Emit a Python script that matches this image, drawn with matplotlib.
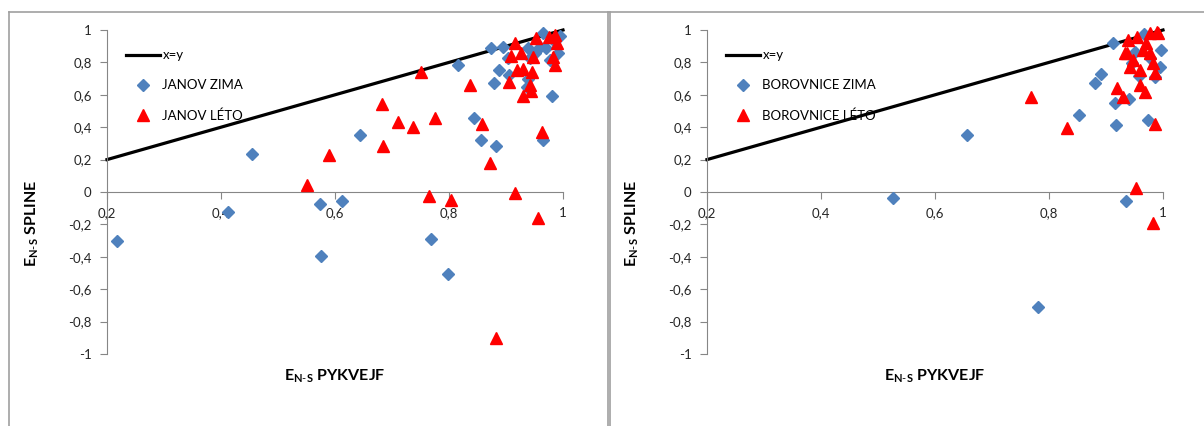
import matplotlib
matplotlib.use("Agg")
import matplotlib.pyplot as plt
from matplotlib.lines import Line2D
from matplotlib.ticker import FuncFormatter

plt.rcParams['font.family'] = ['Lato', 'DejaVu Sans']
plt.rcParams['mathtext.fontset'] = 'custom'
plt.rcParams['mathtext.rm'] = 'Lato'
plt.rcParams['mathtext.bf'] = 'Lato:bold'

# ---- data ----
line_xy = [0.2, 1.0]

janov_zima_x = [0.217, 0.413, 0.454, 0.574, 0.575, 0.613, 0.643, 0.768, 0.799, 0.815,
                0.844, 0.856, 0.882, 0.873, 0.894, 0.879, 0.888, 0.906, 0.904, 0.942,
                0.939, 0.936, 0.939, 0.951, 0.960, 0.965, 0.971, 0.977, 0.980, 0.992,
                0.995, 0.965, 0.985]
janov_zima_y = [-0.305, -0.126, 0.237, -0.074, -0.397, -0.054, 0.354, -0.292, -0.504, 0.784,
                0.455, 0.321, 0.286, 0.887, 0.897, 0.675, 0.753, 0.722, 0.825, 0.825,
                0.887, 0.646, 0.700, 0.860, 0.897, 0.980, 0.887, 0.815, 0.593, 0.856,
                0.965, 0.321, 0.930]

janov_leto_x = [0.750, 0.836, 0.682, 0.711, 0.736, 0.775, 0.858, 0.684, 0.590, 0.872,
                0.550, 0.765, 0.803, 0.915, 0.963, 0.957, 0.882, 0.916, 0.908, 0.927,
                0.919, 0.929, 0.906, 0.948, 0.945, 0.942, 0.943, 0.929, 0.952, 0.976,
                0.986, 0.989, 0.983, 0.986]
janov_leto_y = [0.743, 0.660, 0.543, 0.434, 0.400, 0.455, 0.420, 0.286, 0.228, 0.177,
                0.043, -0.023, -0.049, -0.004, 0.372, -0.160, -0.902, 0.922, 0.840, 0.860,
                0.753, 0.757, 0.680, 0.831, 0.743, 0.660, 0.625, 0.595, 0.949, 0.955,
                0.969, 0.918, 0.835, 0.784]

borov_zima_x = [0.527, 0.780, 0.657, 0.853, 0.918, 0.880, 0.891, 0.913, 0.916, 0.941,
                0.974, 0.935, 0.966, 0.997, 0.994, 0.986, 0.958, 0.945, 0.951, 0.977]
borov_zima_y = [-0.040, -0.708, 0.352, 0.475, 0.414, 0.671, 0.728, 0.918, 0.550, 0.576,
                0.444, -0.054, 0.975, 0.877, 0.774, 0.707, 0.719, 0.794, 0.866, 0.825]

borov_leto_x = [0.768, 0.831, 0.986, 0.953, 0.983, 0.939, 0.954, 0.977, 0.989, 0.936,
                0.965, 0.977, 0.960, 0.942, 0.983, 0.948, 0.919, 0.930, 0.960, 0.968,
                0.986, 0.971, 0.992, 0.933]
borov_leto_y = [0.588, 0.393, 0.420, 0.023, -0.194, 0.938, 0.959, 0.980, 0.990, 0.856,
                0.877, 0.856, 0.753, 0.774, 0.794, 0.815, 0.640, 0.588, 0.660, 0.619,
                0.733, 0.918, 0.980, 0.856]

x_ticks = [0.2, 0.4, 0.6, 0.8, 1.0]
y_ticks = [-1, -0.8, -0.6, -0.4, -0.2, 0, 0.2, 0.4, 0.6, 0.8, 1]

BLUE = '#4F81BD'
RED = '#FF0000'
AXC = '#868686'

W, H = 1204, 426
fig = plt.figure(figsize=(W / 100, H / 100), dpi=100)


def fmt(v, pos=None):
    if abs(v - round(v)) < 1e-9:
        s = '%d' % round(v)
    else:
        s = ('%.1f' % v)
    return s.replace('.', ',')


def panel(left_px, zx, zy, lx, ly, name):
    ax = fig.add_axes([left_px / W, (H - 354) / H, 456 / W, 324 / H])
    ax.set_xlim(0.2, 1.0)
    ax.set_ylim(-1, 1)
    ax.plot(line_xy, line_xy, color='black', lw=2.3, zorder=2, clip_on=False)
    ax.plot(zx, zy, linestyle='none', marker='D', ms=5.8, color=BLUE, mec=BLUE,
            zorder=3, clip_on=False)
    ax.plot(lx, ly, linestyle='none', marker='^', ms=8, color=RED, mec=RED,
            zorder=4, clip_on=False)
    for s in ['top', 'right']:
        ax.spines[s].set_visible(False)
    ax.spines['bottom'].set_position(('data', 0))
    ax.spines['bottom'].set_color(AXC)
    ax.spines['left'].set_color(AXC)
    ax.set_xticks(x_ticks)
    ax.set_yticks(y_ticks)
    ax.xaxis.set_major_formatter(FuncFormatter(fmt))
    ax.yaxis.set_major_formatter(FuncFormatter(fmt))
    ax.tick_params(axis='both', colors=AXC, labelcolor='#262626', labelsize=9.5,
                   length=5, width=0.8, direction='out', pad=6)
    ax.set_xlabel(r'$\mathbf{E_{N\text{-}S}}$ PYKVEJF', fontsize=11.5,
                  fontweight='bold')
    ax.xaxis.set_label_coords(0.5, -0.042)
    ax.set_ylabel(r'$\mathbf{E_{N\text{-}S}}$ SPLINE', fontsize=11.5,
                  fontweight='bold')
    ax.yaxis.set_label_coords(-0.145, 0.403)
    handles = [
        Line2D([], [], color='black', lw=2.3),
        Line2D([], [], linestyle='none', marker='D', ms=5.8, color=BLUE),
        Line2D([], [], linestyle='none', marker='^', ms=8, color=RED),
    ]
    labels = ['x=y', name + ' ZIMA', name + ' LÉTO']
    ax.legend(handles, labels, loc='upper left', bbox_to_anchor=(0.042, 0.94),
              frameon=False, fontsize=9.5, handlelength=2.6, handletextpad=0.15,
              labelspacing=1.35, borderaxespad=0, borderpad=0, numpoints=1)
    return ax


panel(107, janov_zima_x, janov_zima_y, janov_leto_x, janov_leto_y, 'JANOV')
panel(707, borov_zima_x, borov_zima_y, borov_leto_x, borov_leto_y, 'BOROVNICE')

# chart-area borders
BC = '#a0a0a0'
top = 1 - 12 / H
fig.add_artist(Line2D([9 / W, 1.0], [top, top], color=BC, lw=1.2))
fig.add_artist(Line2D([9 / W, 9 / W], [0, top], color=BC, lw=1.2))
fig.add_artist(Line2D([607.5 / W, 607.5 / W], [0, top], color=BC, lw=1.2))
fig.add_artist(Line2D([610.5 / W, 610.5 / W], [0, top], color=BC, lw=1.2))

fig.savefig('out.png', dpi=100)
